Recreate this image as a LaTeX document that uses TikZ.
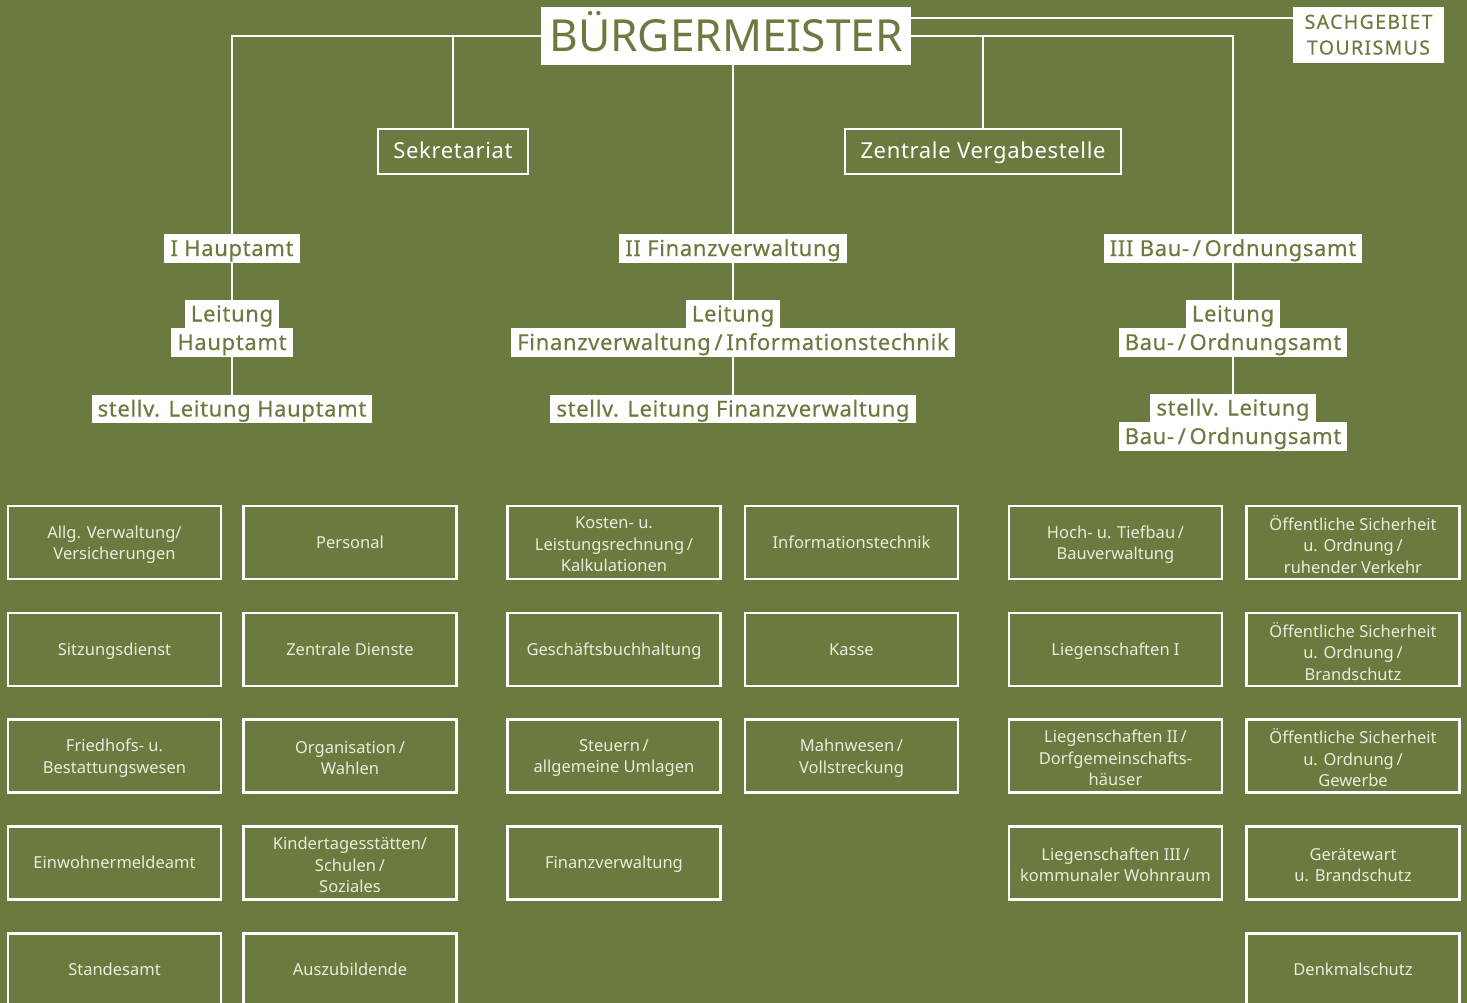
\documentclass[tikz,border=0pt]{standalone}
\usepackage{fontspec}
\setmainfont{Noto Sans}
\newfontfamily\medfont[FakeBold=0.35,LetterSpace=3]{Noto Sans}
\newfontfamily\tourfont[FakeBold=0.3,LetterSpace=7]{Noto Sans}
\newfontfamily\hfont[LetterSpace=3]{Noto Sans}
\definecolor{olive}{HTML}{6B7B40}
\definecolor{boxtext}{HTML}{E8ECDC}
\begin{document}
\begin{tikzpicture}[x=1pt,y=-1pt,
  conn/.style={draw=white,line width=2.5pt},
  lab/.style={fill=white,text=olive,font=\medfont\fontsize{22}{26}\selectfont,inner xsep=6pt,inner ysep=6.75pt,text height=15pt,text depth=0pt,minimum height=28.5pt},
  hbox/.style={draw=white,line width=2.5pt,text=white,font=\hfont\fontsize{22}{26}\selectfont,inner xsep=15.5pt,minimum height=45pt,text height=15pt,text depth=0pt},
  unitbase/.style={draw=white,line width=2.5pt,text=boxtext,font=\fontsize{16.5}{21.5}\selectfont,align=center,minimum width=213pt,minimum height=73pt,inner sep=2pt},
  unit/.style={unitbase,label={[unitbase,draw=none,text=boxtext,yshift=-2pt,anchor=center,minimum width=0pt,minimum height=0pt]center:#1}},
  uone/.style={unitbase,text height=11.8pt,text depth=0pt}]
\fill[olive] (0,0) rectangle (1467,1003);
\useasboundingbox (0,0) rectangle (1467,1003);
% top
\node[fill=white,text=olive,font=\fontsize{44.2}{48}\selectfont,minimum width=370pt,minimum height=58pt,inner sep=0pt,text height=32pt,text depth=0pt] (bm) at (726,36) {BÜRGERMEISTER};
\node[fill=white,text=olive,font=\tourfont\fontsize{19.5}{25.7}\selectfont,align=center,minimum width=151pt,minimum height=56pt,inner sep=0pt] (tour) at (1368.5,34.7) {SACHGEBIET\\TOURISMUS};
\coordinate (tl) at (0,18);
\node[hbox] (sek) at (453,151.5) {Sekretariat};
\node[hbox] (zvb) at (983,151.5) {Zentrale Vergabestelle};
% column I
\node[lab] (ha) at (232,248.5) {I Hauptamt};
\node[lab] (hal1) at (232,314) {Leitung};
\node[lab] (hal2) at (232,342.5) {Hauptamt};
\node[lab] (has) at (232,409) {stellv. Leitung Hauptamt};
% column II
\node[lab] (fv) at (733,248.5) {II Finanzverwaltung};
\node[lab] (fvl1) at (733,314) {Leitung};
\node[lab] (fvl2) at (733,342.5) {Finanzverwaltung\,/\,Informationstechnik};
\node[lab] (fvs) at (733,409) {stellv. Leitung Finanzverwaltung};
% column III
\node[lab] (ba) at (1233,248.5) {III Bau-\,/\,Ordnungsamt};
\node[lab] (bal1) at (1233,314) {Leitung};
\node[lab] (bal2) at (1233,342.5) {Bau-\,/\,Ordnungsamt};
\node[lab] (bas1) at (1233,408) {stellv. Leitung};
\node[lab] (bas2) at (1233,436.5) {Bau-\,/\,Ordnungsamt};
% connectors
\draw[conn] (bm.west) -| (ha.north);
\draw[conn] (bm.east) -| (ba.north);
\draw[conn] (sek.north) -- (sek.north |- bm.west);
\draw[conn] (zvb.north) -- (zvb.north |- bm.east);
\draw[conn] (bm.east |- tl) -- (tour.west |- tl);
\draw[conn] (fv.north |- bm.south) -- (fv.north);
\draw[conn] (ha.south) -- (hal1.north);
\draw[conn] (hal2.south) -- (has.north);
\draw[conn] (fv.south) -- (fvl1.north);
\draw[conn] (fvl2.south) -- (fvs.north);
\draw[conn] (ba.south) -- (bal1.north);
\draw[conn] (bal2.south) -- (bas1.north);
% units
\node[unit={Allg. Verwaltung/\\Versicherungen}] (a1) at (114.5,542.5) {};
\node[uone] (a2) at (114.5,649.5) {Sitzungsdienst};
\node[unit={Friedhofs- u.\\Bestattungswesen}] (a3) at (114.5,756) {};
\node[uone] (a4) at (114.5,863) {Einwohnermeldeamt};
\node[uone] (a5) at (114.5,970) {Standesamt};
\node[uone] (b1) at (350,542.5) {Personal};
\node[uone] (b2) at (350,649.5) {Zentrale Dienste};
\node[unit={Organisation\,/\\Wahlen}] (b3) at (350,756) {};
\node[unit={Kindertagesstätten/\\Schulen\,/\\Soziales}] (b4) at (350,863) {};
\node[uone] (b5) at (350,970) {Auszubildende};
\node[unit={Kosten- u.\\Leistungsrechnung\,/\\Kalkulationen}] (c1) at (614,542.5) {};
\node[uone] (c2) at (614,649.5) {Geschäftsbuchhaltung};
\node[unit={Steuern\,/\\allgemeine Umlagen}] (c3) at (614,756) {};
\node[uone] (c4) at (614,863) {Finanzverwaltung};
\node[uone] (d1) at (851.5,542.5) {Informationstechnik};
\node[uone] (d2) at (851.5,649.5) {Kasse};
\node[unit={Mahnwesen\,/\\Vollstreckung}] (d3) at (851.5,756) {};
\node[unit={Hoch- u. Tiefbau\,/\\Bauverwaltung}] (e1) at (1115.5,542.5) {};
\node[uone] (e2) at (1115.5,649.5) {Liegenschaften I};
\node[unit={Liegenschaften II\,/\\Dorfgemeinschafts-\\häuser}] (e3) at (1115.5,756) {};
\node[unit={Liegenschaften III\,/\\kommunaler Wohnraum}] (e4) at (1115.5,863) {};
\node[unit={Öffentliche Sicherheit\\u. Ordnung\,/\\ruhender Verkehr}] (f1) at (1353,542.5) {};
\node[unit={Öffentliche Sicherheit\\u. Ordnung\,/\\Brandschutz}] (f2) at (1353,649.5) {};
\node[unit={Öffentliche Sicherheit\\u. Ordnung\,/\\Gewerbe}] (f3) at (1353,756) {};
\node[unit={Gerätewart\\u. Brandschutz}] (f4) at (1353,863) {};
\node[uone] (f5) at (1353,970) {Denkmalschutz};
\end{tikzpicture}
\end{document}
